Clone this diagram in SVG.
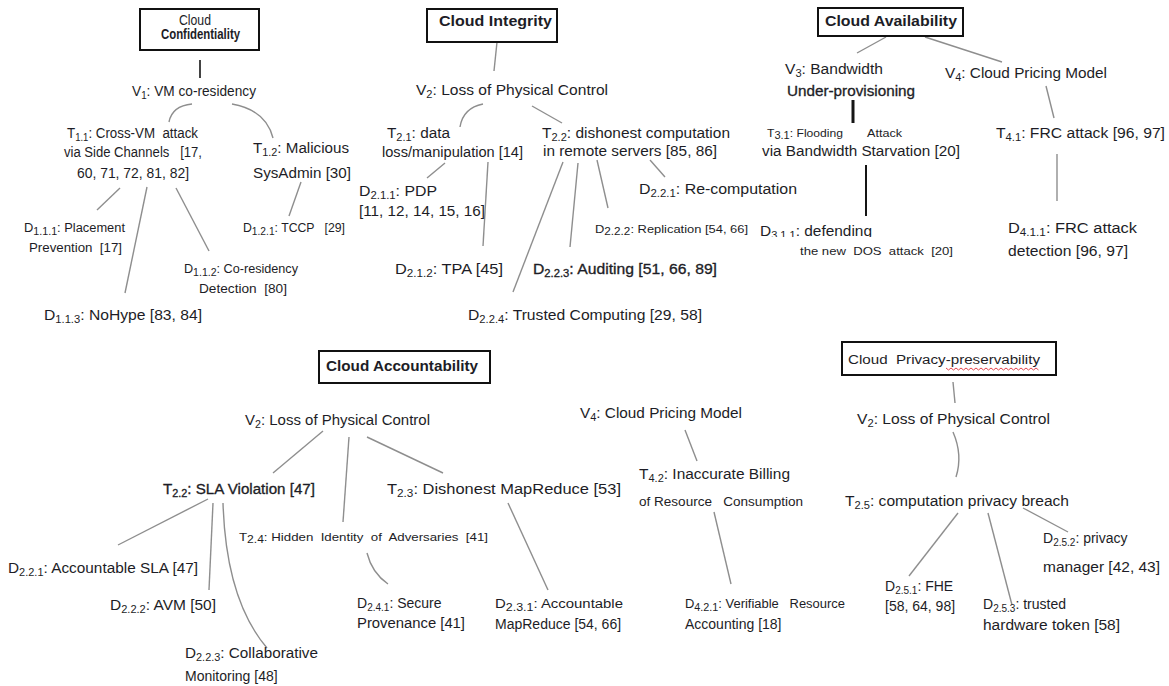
<svg xmlns="http://www.w3.org/2000/svg" width="1169" height="686" viewBox="0 0 1169 686">
  <style>
    .t { font-family: "Liberation Sans", Arial, sans-serif; font-size: 14px; fill: #1d1d26; }
    .sm { font-size: 12px; }
    .xs { font-size: 11px; }
    .b { font-weight: bold; }
    .sb { stroke: #1d1d26; stroke-width: 0.3px; }
    .s { font-size: 10px; }
    .box { fill: #fff; stroke: #111; stroke-width: 2; }
    .c { stroke: #8e8e8e; stroke-width: 1.4; fill: none; }
    .k { stroke: #151515; fill: none; }
  </style>
  <defs>
    <clipPath id="cutDefend"><rect x="740" y="210" width="150" height="27"/></clipPath>
  </defs>
  <rect width="1169" height="686" fill="#fff"/>

  <!-- connectors -->
  <g id="connectors">
    <!-- confidentiality -->
    <line class="k" x1="200" y1="60" x2="200" y2="78" stroke-width="1.6"/>
    <path class="c" d="M192,104 Q172,106 169,122"/>
    <path class="c" d="M232,104 Q266,110 273,138"/>
    <line class="c" x1="120" y1="188" x2="97" y2="210"/>
    <line class="c" x1="147" y1="187" x2="125" y2="293"/>
    <line class="c" x1="176" y1="188" x2="209" y2="251"/>
    <line class="c" x1="301" y1="182" x2="289" y2="216"/>
    <!-- integrity -->
    <line class="c" x1="497" y1="42" x2="494" y2="71"/>
    <path class="c" d="M483,104 Q463,108 460,127"/>
    <line class="c" x1="532" y1="106" x2="562" y2="123"/>
    <line class="c" x1="445" y1="163" x2="427" y2="178"/>
    <line class="c" x1="488" y1="162" x2="483" y2="246"/>
    <line class="c" x1="563" y1="162" x2="513" y2="292"/>
    <line class="c" x1="578" y1="163" x2="570" y2="247"/>
    <line class="c" x1="597" y1="160" x2="608" y2="208"/>
    <line class="c" x1="650" y1="160" x2="665" y2="177"/>
    <!-- availability -->
    <line class="c" x1="886" y1="37" x2="857" y2="53"/>
    <line class="c" x1="925" y1="37" x2="1002" y2="62"/>
    <line class="k" x1="853" y1="100" x2="853" y2="123" stroke-width="3"/>
    <line class="c" x1="1046" y1="86" x2="1054" y2="118"/>
    <line class="k" x1="866" y1="165" x2="866" y2="216" stroke-width="2"/>
    <line class="c" x1="1057" y1="154" x2="1057" y2="201"/>
    <!-- accountability -->
    <line class="c" x1="323" y1="431" x2="273" y2="473"/>
    <line class="c" x1="349" y1="437" x2="343" y2="522"/>
    <line class="c" x1="367" y1="437" x2="443" y2="473"/>
    <line class="c" x1="208" y1="499" x2="118" y2="545"/>
    <line class="c" x1="213" y1="503" x2="209" y2="590"/>
    <path class="c" d="M223,503 Q226,600 267,648"/>
    <path class="c" d="M367,553 Q372,573 388,584"/>
    <line class="c" x1="508" y1="503" x2="548" y2="590"/>
    <line class="c" x1="685" y1="430" x2="697" y2="461"/>
    <line class="c" x1="714" y1="512" x2="731" y2="584"/>
    <!-- privacy -->
    <line class="c" x1="953" y1="382" x2="955" y2="403"/>
    <path class="c" d="M953,432 Q963,455 956,477"/>
    <line class="c" x1="958" y1="513" x2="909" y2="576"/>
    <line class="c" x1="988" y1="513" x2="1012" y2="605"/>
    <line class="c" x1="1023" y1="508" x2="1068" y2="532"/>
  </g>

  <!-- Cloud Confidentiality tree -->
  <g id="cloud-confidentiality">
    <rect class="box" x="140" y="9" width="119" height="41"/>
    <text class="t" x="179" y="25" font-size="14.5" textLength="32" lengthAdjust="spacingAndGlyphs">Cloud</text>
    <text class="t b" x="161" y="39" font-size="10.5" textLength="79" lengthAdjust="spacingAndGlyphs">Confidentiality</text>
  </g>
  <g id="v1">
    <text class="t" x="132" y="96" textLength="124" lengthAdjust="spacingAndGlyphs">V<tspan class="s" dy="3">1</tspan><tspan dy="-3">: VM co-residency</tspan></text>
  </g>
  <g id="t11">
    <text class="t" x="67" y="138" textLength="131" lengthAdjust="spacingAndGlyphs" xml:space="preserve">T<tspan class="s" dy="3">1.1</tspan><tspan dy="-3">: Cross-VM  attack</tspan></text>
    <text class="t" x="64" y="157" textLength="138" lengthAdjust="spacingAndGlyphs" xml:space="preserve">via Side Channels   [17,</text>
    <text class="t" x="77" y="178" textLength="112" lengthAdjust="spacingAndGlyphs">60, 71, 72, 81, 82]</text>
  </g>
  <g id="t12">
    <text class="t" x="253" y="153" textLength="96" lengthAdjust="spacingAndGlyphs">T<tspan class="s" dy="3">1.2</tspan><tspan dy="-3">: Malicious</tspan></text>
    <text class="t" x="253" y="178" textLength="98" lengthAdjust="spacingAndGlyphs">SysAdmin [30]</text>
  </g>
  <g id="d111">
    <text class="t sm" x="24" y="232" textLength="101" lengthAdjust="spacingAndGlyphs">D<tspan class="s" dy="3">1.1.1</tspan><tspan dy="-3">: Placement</tspan></text>
    <text class="t sm" x="29" y="252" textLength="93" lengthAdjust="spacingAndGlyphs" xml:space="preserve">Prevention  [17]</text>
  </g>
  <g id="d121">
    <text class="t sm" x="243" y="232" textLength="102" lengthAdjust="spacingAndGlyphs" xml:space="preserve">D<tspan class="s" dy="3">1.2.1</tspan><tspan dy="-3">: TCCP   [29]</tspan></text>
  </g>
  <g id="d112">
    <text class="t sm" x="184" y="273" textLength="114" lengthAdjust="spacingAndGlyphs">D<tspan class="s" dy="3">1.1.2</tspan><tspan dy="-3">: Co-residency</tspan></text>
    <text class="t sm" x="199" y="293" textLength="88" lengthAdjust="spacingAndGlyphs" xml:space="preserve">Detection  [80]</text>
  </g>
  <g id="d113">
    <text class="t" x="44" y="320" textLength="158" lengthAdjust="spacingAndGlyphs">D<tspan class="s" dy="3">1.1.3</tspan><tspan dy="-3">: NoHype [83, 84]</tspan></text>
  </g>

  <!-- Cloud Integrity tree -->
  <g id="cloud-integrity">
    <rect class="box" x="427" y="9" width="130" height="33"/>
    <text class="t b" x="439" y="26" textLength="113" lengthAdjust="spacingAndGlyphs">Cloud Integrity</text>
  </g>
  <g id="v2-integrity">
    <text class="t" x="416" y="95" textLength="192" lengthAdjust="spacingAndGlyphs">V<tspan class="s" dy="3">2</tspan><tspan dy="-3">: Loss of Physical Control</tspan></text>
  </g>
  <g id="t21">
    <text class="t" x="387" y="138" textLength="63" lengthAdjust="spacingAndGlyphs">T<tspan class="s" dy="3">2.1</tspan><tspan dy="-3">: data</tspan></text>
    <text class="t" x="382" y="157" textLength="141" lengthAdjust="spacingAndGlyphs">loss/manipulation [14]</text>
  </g>
  <g id="t22">
    <text class="t" x="542" y="138" textLength="188" lengthAdjust="spacingAndGlyphs">T<tspan class="s" dy="3">2.2</tspan><tspan dy="-3">: dishonest computation</tspan></text>
    <text class="t" x="543" y="156" textLength="174" lengthAdjust="spacingAndGlyphs">in remote servers [85, 86]</text>
  </g>
  <g id="d211">
    <text class="t" x="359" y="196" textLength="78" lengthAdjust="spacingAndGlyphs">D<tspan class="s" dy="3">2.1.1</tspan><tspan dy="-3">: PDP</tspan></text>
    <text class="t" x="359" y="216" textLength="126" lengthAdjust="spacingAndGlyphs">[11, 12, 14, 15, 16]</text>
  </g>
  <g id="d212">
    <text class="t" x="395" y="274" textLength="108" lengthAdjust="spacingAndGlyphs">D<tspan class="s" dy="3">2.1.2</tspan><tspan dy="-3">: TPA [45]</tspan></text>
  </g>
  <g id="d223">
    <text class="t sb" x="533" y="274" textLength="184" lengthAdjust="spacingAndGlyphs">D<tspan class="s" dy="3">2.2.3</tspan><tspan dy="-3">: Auditing [51, 66, 89]</tspan></text>
  </g>
  <g id="d222">
    <text class="t xs" x="595" y="233" textLength="153" lengthAdjust="spacingAndGlyphs">D<tspan class="s" dy="2">2.2.2</tspan><tspan dy="-2">: Replication [54, 66]</tspan></text>
  </g>
  <g id="d221">
    <text class="t" x="639" y="194" textLength="158" lengthAdjust="spacingAndGlyphs">D<tspan class="s" dy="3">2.2.1</tspan><tspan dy="-3">: Re-computation</tspan></text>
  </g>
  <g id="d224">
    <text class="t" x="468" y="320" textLength="234" lengthAdjust="spacingAndGlyphs">D<tspan class="s" dy="3">2.2.4</tspan><tspan dy="-3">: Trusted Computing [29, 58]</tspan></text>
  </g>

  <!-- Cloud Availability tree -->
  <g id="cloud-availability">
    <rect class="box" x="818" y="8" width="145" height="28"/>
    <text class="t b" x="825" y="26" textLength="132" lengthAdjust="spacingAndGlyphs">Cloud Availability</text>
  </g>
  <g id="v3">
    <text class="t" x="785" y="74" textLength="98" lengthAdjust="spacingAndGlyphs">V<tspan class="s" dy="3">3</tspan><tspan dy="-3">: Bandwidth</tspan></text>
    <text class="t sb" x="787" y="96" textLength="128" lengthAdjust="spacingAndGlyphs">Under-provisioning</text>
  </g>
  <g id="v4-availability">
    <text class="t" x="945" y="78" textLength="162" lengthAdjust="spacingAndGlyphs">V<tspan class="s" dy="3">4</tspan><tspan dy="-3">: Cloud Pricing Model</tspan></text>
  </g>
  <g id="t31">
    <text class="t xs" x="767" y="137" textLength="76" lengthAdjust="spacingAndGlyphs">T<tspan class="s" dy="2">3.1</tspan><tspan dy="-2">: Flooding</tspan></text>
    <text class="t xs" x="867" y="137" textLength="35" lengthAdjust="spacingAndGlyphs">Attack</text>
    <text class="t" x="762" y="156" textLength="198" lengthAdjust="spacingAndGlyphs">via Bandwidth Starvation [20]</text>
  </g>
  <g id="t41">
    <text class="t" x="996" y="138" textLength="169" lengthAdjust="spacingAndGlyphs">T<tspan class="s" dy="3">4.1</tspan><tspan dy="-3">: FRC attack [96, 97]</tspan></text>
  </g>
  <g id="d311">
    <text class="t" x="760" y="236" clip-path="url(#cutDefend)" textLength="112" lengthAdjust="spacingAndGlyphs">D<tspan class="s" dy="3">3.1.1</tspan><tspan dy="-3">: defending</tspan></text>
    <text class="t xs" x="800" y="255" textLength="153" lengthAdjust="spacingAndGlyphs" xml:space="preserve">the new  DOS  attack  [20]</text>
  </g>
  <g id="d411">
    <text class="t" x="1008" y="233" textLength="129" lengthAdjust="spacingAndGlyphs">D<tspan class="s" dy="3">4.1.1</tspan><tspan dy="-3">: FRC attack</tspan></text>
    <text class="t" x="1008" y="256" textLength="120" lengthAdjust="spacingAndGlyphs">detection [96, 97]</text>
  </g>

  <!-- Cloud Accountability tree -->
  <g id="cloud-accountability">
    <rect class="box" x="319" y="351" width="171" height="32"/>
    <text class="t b" x="326" y="371" textLength="152" lengthAdjust="spacingAndGlyphs">Cloud Accountability</text>
  </g>
  <g id="v2-accountability">
    <text class="t" x="245" y="425" textLength="185" lengthAdjust="spacingAndGlyphs">V<tspan class="s" dy="3">2</tspan><tspan dy="-3">: Loss of Physical Control</tspan></text>
  </g>
  <g id="t22-sla">
    <text class="t sb" x="163" y="494" textLength="152" lengthAdjust="spacingAndGlyphs">T<tspan class="s" dy="3">2.2</tspan><tspan dy="-3">: SLA Violation [47]</tspan></text>
  </g>
  <g id="t23">
    <text class="t" x="387" y="494" textLength="234" lengthAdjust="spacingAndGlyphs">T<tspan class="s" dy="3">2.3</tspan><tspan dy="-3">: Dishonest MapReduce [53]</tspan></text>
  </g>
  <g id="t24">
    <text class="t xs" x="239" y="541" textLength="249" lengthAdjust="spacingAndGlyphs" xml:space="preserve">T<tspan class="s" dy="2">2.4</tspan><tspan dy="-2">: Hidden  Identity  of  Adversaries  [41]</tspan></text>
  </g>
  <g id="d221-sla">
    <text class="t" x="8" y="573" textLength="190" lengthAdjust="spacingAndGlyphs">D<tspan class="s" dy="3">2.2.1</tspan><tspan dy="-3">: Accountable SLA [47]</tspan></text>
  </g>
  <g id="d222-avm">
    <text class="t" x="110" y="610" textLength="106" lengthAdjust="spacingAndGlyphs">D<tspan class="s" dy="3">2.2.2</tspan><tspan dy="-3">: AVM [50]</tspan></text>
  </g>
  <g id="d223-monitoring">
    <text class="t" x="185" y="658" textLength="133" lengthAdjust="spacingAndGlyphs">D<tspan class="s" dy="3">2.2.3</tspan><tspan dy="-3">: Collaborative</tspan></text>
    <text class="t" x="185" y="681">Monitoring [48]</text>
  </g>
  <g id="d241">
    <text class="t" x="357" y="608">D<tspan class="s" dy="3">2.4.1</tspan><tspan dy="-3">: Secure</tspan></text>
    <text class="t" x="357" y="628" textLength="108" lengthAdjust="spacingAndGlyphs">Provenance [41]</text>
  </g>
  <g id="d231">
    <text class="t sm" x="495" y="608" textLength="128" lengthAdjust="spacingAndGlyphs">D<tspan class="s" dy="3">2.3.1</tspan><tspan dy="-3">: Accountable</tspan></text>
    <text class="t" x="495" y="629">MapReduce [54, 66]</text>
  </g>
  <g id="v4-accountability">
    <text class="t" x="580" y="418" textLength="162" lengthAdjust="spacingAndGlyphs">V<tspan class="s" dy="3">4</tspan><tspan dy="-3">: Cloud Pricing Model</tspan></text>
  </g>
  <g id="t42">
    <text class="t" x="639" y="479" textLength="151" lengthAdjust="spacingAndGlyphs">T<tspan class="s" dy="3">4.2</tspan><tspan dy="-3">: Inaccurate Billing</tspan></text>
    <text class="t sm" x="639" y="506" textLength="164" lengthAdjust="spacingAndGlyphs" xml:space="preserve">of Resource   Consumption</text>
  </g>
  <g id="d421">
    <text class="t sm" x="685" y="608" textLength="160" lengthAdjust="spacingAndGlyphs" xml:space="preserve">D<tspan class="s" dy="3">4.2.1</tspan><tspan dy="-3">: Verifiable   Resource</tspan></text>
    <text class="t" x="685" y="629">Accounting [18]</text>
  </g>

  <!-- Cloud Privacy-preservability tree -->
  <g id="cloud-privacy">
    <rect class="box" x="842" y="342" width="214" height="33"/>
    <text class="t sm" x="848" y="364" textLength="192" lengthAdjust="spacingAndGlyphs" xml:space="preserve">Cloud  Privacy-preservability</text>
    <path d="M946,368 l2.5,2 2.5,-2 2.5,2 2.5,-2 2.5,2 2.5,-2 2.5,2 2.5,-2 2.5,2 2.5,-2 2.5,2 2.5,-2 2.5,2 2.5,-2 2.5,2 2.5,-2 2.5,2 2.5,-2 2.5,2 2.5,-2 2.5,2 2.5,-2 2.5,2 2.5,-2 2.5,2 2.5,-2 2.5,2 2.5,-2 2.5,2 2.5,-2 2.5,2 2.5,-2 2.5,2 2.5,-2 2.5,2 2.5,-2 2.5,2" fill="none" stroke="#e0303a" stroke-width="0.9"/>
  </g>
  <g id="v2-privacy">
    <text class="t" x="857" y="424" textLength="193" lengthAdjust="spacingAndGlyphs">V<tspan class="s" dy="3">2</tspan><tspan dy="-3">: Loss of Physical Control</tspan></text>
  </g>
  <g id="t25">
    <text class="t" x="845" y="506" textLength="224" lengthAdjust="spacingAndGlyphs">T<tspan class="s" dy="3">2.5</tspan><tspan dy="-3">: computation privacy breach</tspan></text>
  </g>
  <g id="d252">
    <text class="t" x="1043" y="543">D<tspan class="s" dy="3">2.5.2</tspan><tspan dy="-3">: privacy</tspan></text>
    <text class="t" x="1043" y="572" textLength="117" lengthAdjust="spacingAndGlyphs">manager [42, 43]</text>
  </g>
  <g id="d251">
    <text class="t" x="885" y="591">D<tspan class="s" dy="3">2.5.1</tspan><tspan dy="-3">: FHE</tspan></text>
    <text class="t" x="885" y="611">[58, 64, 98]</text>
  </g>
  <g id="d253">
    <text class="t" x="983" y="609">D<tspan class="s" dy="3">2.5.3</tspan><tspan dy="-3">: trusted</tspan></text>
    <text class="t" x="983" y="630" textLength="137" lengthAdjust="spacingAndGlyphs">hardware token [58]</text>
  </g>
</svg>
